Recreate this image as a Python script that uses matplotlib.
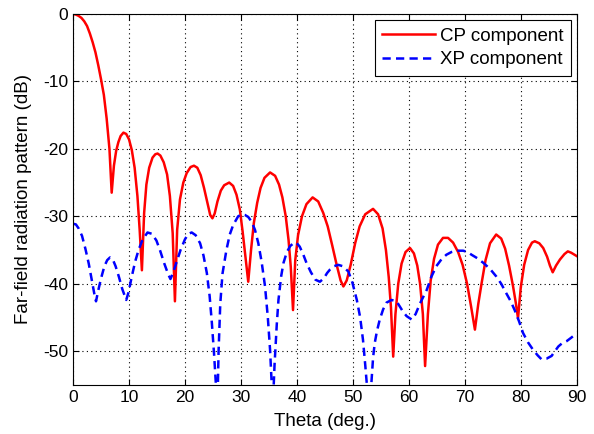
import numpy as np
from matplotlib import pyplot as plt

# CP component (co-polar)
cp_theta = [0, 0.5, 1, 1.5, 2, 2.5, 3, 3.5, 4, 4.5, 5, 5.5, 6, 6.5, 6.9,
            7.3, 7.7, 8.1, 8.5, 9.0, 9.5, 10.0, 10.5, 11.0, 11.5, 11.9, 12.3,
            12.7, 13.1, 13.6, 14.2, 14.7, 15.1, 15.6, 16.2, 16.8, 17.3, 17.8, 18.2,
            18.6, 19.1, 19.7, 20.3, 21.0, 21.6, 22.2, 22.8, 23.4, 24.0, 24.5, 24.9,
            25.3, 25.8, 26.4, 27.0, 27.9, 28.6, 29.2, 29.8, 30.3, 30.8, 31.3,
            31.8, 32.3, 32.9, 33.5, 34.2, 35.2, 36.1, 36.8, 37.4, 38.0, 38.5, 38.9, 39.3,
            39.7, 40.2, 40.9, 41.7, 42.8, 43.8, 44.7, 45.5, 46.3, 47.1, 47.8, 48.3,
            48.9, 49.6, 50.4, 51.2, 52.2, 53.6, 54.5, 55.3, 55.9, 56.4, 56.8, 57.2,
            57.6, 58.1, 58.7, 59.4, 60.2, 60.9, 61.5, 62.0, 62.5, 62.9,
            63.4, 63.9, 64.5, 65.2, 66.1, 67.0, 67.9, 68.8, 69.6, 70.4, 71.1, 71.8,
            72.4, 73.0, 73.7, 74.5, 75.6, 76.5, 77.2, 77.9, 78.6, 79.1, 79.5,
            80.0, 80.6, 81.3, 82.0, 82.5, 83.3, 84.0, 84.7, 85.2, 85.7,
            86.3, 87.0, 87.8, 88.4, 89.0, 89.6, 90]
cp_db = [0, -0.1, -0.3, -0.6, -1.1, -1.8, -2.9, -4.2, -5.7, -7.6, -9.7, -12.0, -15.5, -20.0, -26.5,
         -22.5, -20.3, -19.0, -18.1, -17.6, -17.8, -18.6, -20.2, -22.8, -27.0, -32.0, -38.0,
         -29.5, -25.3, -22.8, -21.3, -20.8, -20.7, -21.0, -22.0, -23.8, -27.0, -32.5, -42.6,
         -32.0, -27.5, -25.0, -23.6, -22.7, -22.5, -22.8, -23.9, -25.8, -28.0, -29.8, -30.3,
         -29.6, -27.8, -26.2, -25.4, -25.0, -25.5, -26.8, -29.0, -32.3, -36.0, -39.7,
         -35.0, -31.0, -28.0, -25.8, -24.3, -23.5, -24.0, -25.3, -27.2, -30.0, -33.5, -37.5, -43.9,
         -36.5, -32.8, -30.0, -28.2, -27.2, -27.8, -29.5, -31.5, -34.3, -37.2, -39.5, -40.4,
         -39.5, -37.2, -34.0, -31.5, -29.7, -28.9, -29.7, -31.8, -35.0, -39.0, -43.5, -50.8,
         -44.5, -40.0, -37.0, -35.3, -34.7, -35.5, -37.3, -40.0, -44.5, -52.2,
         -44.5, -39.5, -36.3, -34.2, -33.2, -33.2, -33.9, -35.3, -37.2, -40.0, -43.3, -46.8,
         -43.0, -39.9, -36.5, -34.0, -32.7, -33.3, -34.8, -37.3, -40.3, -42.8, -45.1,
         -40.5, -37.2, -35.0, -33.9, -33.7, -34.0, -34.7, -36.0, -37.3, -38.3,
         -37.3, -36.4, -35.6, -35.2, -35.4, -35.7, -35.9]

# XP component (cross-polar)
xp_theta = [0, 0.5, 1.0, 1.6, 2.2, 2.8, 3.4, 3.8, 4.1, 4.5, 5.0, 5.6, 6.1, 6.6, 7.1, 7.6,
            8.2, 8.8, 9.5, 9.9, 10.5, 11.1, 11.7, 12.4, 13.3, 14.1, 14.9, 15.6, 16.3,
            17.0, 17.4, 17.9, 18.5, 19.2, 20.0, 20.6, 21.2, 21.9, 22.7, 23.3, 23.9,
            24.4, 24.8, 25.2, 25.6, 25.8, 26.0, 26.3, 26.7, 27.4, 28.0, 28.6, 29.5,
            30.2, 30.7, 31.3, 31.9, 32.5, 33.1, 33.7, 34.3, 34.8, 35.2, 35.5, 35.7,
            36.0, 36.4, 36.7, 37.2, 37.6, 38.2, 38.8, 39.4, 39.9, 40.5, 41.1, 41.7,
            42.5, 43.3, 44.1, 44.8, 45.4, 45.9, 46.6, 47.4, 48.2, 49.2, 49.9, 50.7,
            51.3, 51.8, 52.2, 52.5, 52.8, 53.2, 53.6, 53.9, 54.3, 54.8, 55.4, 56.0,
            56.9, 57.8, 58.4, 59.0, 59.6, 60.5, 61.2, 62.0, 63.2, 64.0, 64.9, 65.8,
            66.7, 67.6, 68.5, 69.7, 70.5, 71.2, 72.2, 73.3, 74.5, 75.6, 76.5, 77.4,
            78.2, 78.9, 79.7, 80.4, 81.3, 82.2, 83.0, 83.7, 84.6, 85.5, 86.1, 86.7,
            87.4, 88.2, 89.0, 89.6, 90]
xp_db = [-31.1, -31.2, -31.8, -32.9, -34.8, -37.0, -39.7, -41.5, -42.6, -41.0, -39.2, -37.4,
         -36.5, -36.1, -36.4, -37.4, -39.0, -40.8, -42.4, -41.3, -38.9, -36.7, -35.0, -33.5,
         -32.4, -32.6, -33.6, -35.2, -37.0, -38.6, -39.3, -38.3, -36.8, -35.0, -33.4, -32.6,
         -32.4, -32.8, -34.0, -35.8, -38.4, -41.8, -45.8, -50.5, -56.0, -58.0, -50.0, -43.0,
         -38.5, -35.0, -32.7, -31.3, -30.0, -29.7, -29.8, -30.1, -30.8, -32.0, -34.0, -36.8,
         -40.4, -45.0, -49.8, -55.0, -58.0, -52.0, -46.0, -42.4, -38.8, -36.9, -35.3, -34.4,
         -34.0, -33.9, -34.5, -35.6, -36.9, -38.3, -39.4, -39.7, -39.2, -38.4, -37.9, -37.4,
         -37.2, -37.4, -38.2, -39.8, -42.4, -45.0, -48.3, -52.0, -55.0, -58.0, -56.0, -51.0,
         -48.8, -47.0, -45.3, -43.8, -42.8, -42.4, -42.6, -43.4, -44.2, -44.8, -45.3, -44.5,
         -42.9, -40.9, -39.0, -37.4, -36.4, -35.7, -35.3, -35.1, -35.1, -35.3, -35.7, -36.2,
         -36.9, -37.8, -38.9, -40.0, -41.4, -42.6, -43.9, -45.6, -47.3, -48.7, -49.8, -50.6,
         -51.2, -51.1, -50.7, -50.0, -49.3, -48.8, -48.5, -48.0, -47.6, -47.4]

plt.rcParams['font.family'] = ['Liberation Sans', 'DejaVu Sans']
plt.rcParams['axes.unicode_minus'] = False

fig = plt.figure(figsize=(5.94, 4.34), dpi=100)
ax = fig.add_axes([0.123, 0.113, 0.848, 0.855])

ax.plot(cp_theta, cp_db, color='red', linewidth=1.8, label='CP component')
ax.plot(xp_theta, xp_db, color='blue', linewidth=1.8, linestyle=(0, (3.3, 2.1)),
        label='XP component')

ax.set_xlim(0, 90)
ax.set_ylim(-55, 0)
ax.set_xticks(np.arange(0, 91, 10))
ax.set_yticks(np.arange(-50, 1, 10))
ax.grid(True, color='black', linestyle=(0, (1, 3)), linewidth=0.8)
ax.tick_params(direction='in', labelsize=12.5, top=True, right=True, length=4)
ax.set_xlabel('Theta (deg.)', fontsize=13.5, labelpad=6)
ax.set_ylabel('Far-field radiation pattern (dB)', fontsize=13.5, labelpad=8)

leg = ax.legend(loc='upper right', fontsize=13.5, fancybox=False, framealpha=1,
                edgecolor='black', borderaxespad=0.33, handlelength=2.8,
                handletextpad=0.25, labelspacing=0.35, borderpad=0.4)
leg.get_frame().set_linewidth(0.8)

fig.savefig('out.png', dpi=100)
